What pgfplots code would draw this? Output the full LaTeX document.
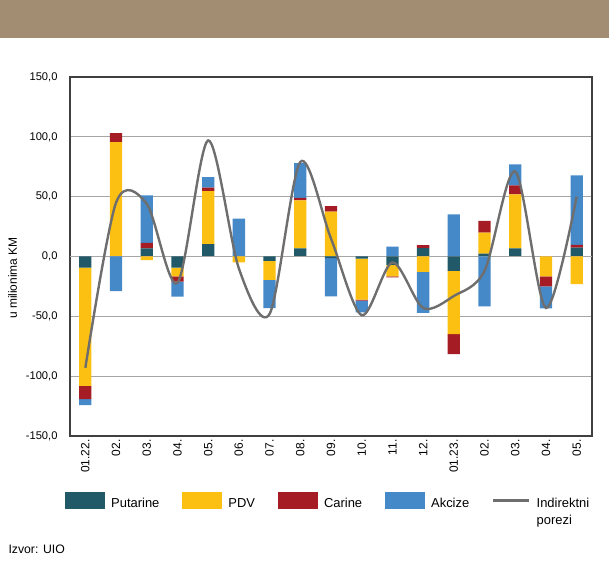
\documentclass[border=0pt]{standalone}
\usepackage{pgfplots}
\pgfplotsset{compat=1.18}
\usepackage{pgfplotstable}
\usepackage{fontspec}
\setmainfont{Liberation Sans}

\definecolor{cPut}{HTML}{215968}
\definecolor{cPdv}{HTML}{FCC013}
\definecolor{cCar}{HTML}{A51C24}
\definecolor{cAkc}{HTML}{4589C8}
\definecolor{cLine}{HTML}{6E6E6E}
\definecolor{cGrid}{HTML}{A6A6A6}
\definecolor{cFrame}{HTML}{404040}
\definecolor{cBanner}{HTML}{A38D72}

% positive parts of each bar
\pgfplotstableread{
x  put  pdv  car  akc
0  0    0    0    0
1  0    95.6 7.5  0
2  6.7  0    4.7  39.7
3  0    0    0    0
4  10.3 44.4 2.8  8.9
5  0    0    0    31.7
6  0    0    0    0
7  6.7  40.3 2.0  29.0
8  0    37.5 4.7  0
9  0    0    0    0
10 0    0    0    8.3
11 7.0  0    2.5  0
12 0    0    0    35.3
13 2.5  17.5 9.7  0
14 6.7  45.3 7.5  17.5
15 0    0    0    0
16 7.5  0    2.2  58.0
}\pos

% negative parts of each bar
\pgfplotstableread{
x  put   pdv   car   akc
0  -9.2  -99.0 -11.0 -5.0
1  0     0     0     -29.0
2  0     -3.0  0     0
3  -9.2  -7.5  -4.4  -12.5
4  0     0     0     0
5  0     -5.0  0     0
6  -3.6  -16.0 0     -23.6
7  0     0     0     0
8  -1.4  0     0     -32.0
9  -1.7  -34.4 -0.8  -9.7
10 -7.0  -9.7  -0.8  0
11 0     -12.8 0     -34.4
12 -12.0 -52.8 -16.7 0
13 0     0     0     -41.7
14 0     0     0     0
15 0     -16.7 -8.3  -18.3
16 0     -23.0 0     0
}\neg

% Indirektni porezi
\pgfplotstableread{
x  ind
0  -93
1  45
2  44
3  -22
4  97
5  -10
6  -48
7  79
8  15
9  -49
10 -5
11 -43
12 -33
13 -12
14 71
15 -43
16 50
}\ind

\pgfplotsset{
  base/.style={scale only axis, width=522bp, height=359bp,
    xmin=-0.5, xmax=16.5, ymin=-150, ymax=150,
    at={(0,0)}, anchor=south west},
  barleg/.style={legend image code/.code={\fill[##1] (0bp,-1.5bp) rectangle (40bp,15.5bp);}},
  lineleg/.style={legend image code/.code={\draw[##1] (0bp,7.3bp) -- (36bp,7.3bp);}},
}

\begin{document}
\begin{tikzpicture}
\path[use as bounding box] (-70bp,-128bp) rectangle (539bp,436bp);
\fill[cBanner] (-70bp,398bp) rectangle (539bp,436bp);

\begin{axis}[base, ybar stacked, bar width=0.4,
  axis line style={draw=cFrame, line width=1.1bp},
  ymajorgrids, grid style={cGrid, line width=0.9bp},
  tick style={draw=none},
  ytick={-150,-100,...,150},
  xtick={0,...,16},
  xticklabels={01.22.,02.,03.,04.,05.,06.,07.,08.,09.,10.,11.,12.,01.23.,02.,03.,04.,05.},
  xticklabel style={rotate=90, anchor=east, font=\fontsize{12}{14}\selectfont},
  yticklabel style={font=\fontsize{11.2}{13}\selectfont, xshift=-9bp,
    /pgf/number format/.cd, fixed, fixed zerofill, precision=1, use comma,
    assume math mode=true},
  ylabel={u milionima KM},
  ylabel style={at={(axis description cs:-0.11,0.44)}, anchor=center,
    font=\fontsize{12}{14}\selectfont},
]
\addplot[fill=cPut, draw=none] table[x=x, y=put] {\pos};
\addplot[fill=cPdv, draw=none] table[x=x, y=pdv] {\pos};
\addplot[fill=cCar, draw=none] table[x=x, y=car] {\pos};
\addplot[fill=cAkc, draw=none] table[x=x, y=akc] {\pos};
\end{axis}

\begin{axis}[base, ybar stacked, bar width=0.4, hide axis]
\addplot[fill=cPut, draw=none] table[x=x, y=put] {\neg};
\addplot[fill=cPdv, draw=none] table[x=x, y=pdv] {\neg};
\addplot[fill=cCar, draw=none] table[x=x, y=car] {\neg};
\addplot[fill=cAkc, draw=none] table[x=x, y=akc] {\neg};
\draw[cGrid, line width=0.9bp] (axis cs:-0.5,0) -- (axis cs:16.5,0);
\end{axis}

\begin{axis}[base, hide axis,
  legend style={at={(axis description cs:-0.0096,-0.156)}, anchor=north west,
    draw=none, fill=none, inner sep=0pt, legend columns=5,
    cells={anchor=base west}, font=\fontsize{13}{15}\selectfont,
    /tikz/every odd column/.append style={column sep=4bp},
    /tikz/every even column/.append style={column sep=21bp}},
]
\addlegendimage{barleg, fill=cPut, draw=none}
\addlegendimage{barleg, fill=cPdv, draw=none}
\addlegendimage{barleg, fill=cCar, draw=none}
\addlegendimage{barleg, fill=cAkc, draw=none}
\addplot[smooth, color=cLine, line width=2.4bp, lineleg]
  table[x=x, y=ind] {\ind};
\legend{Putarine, PDV, Carine, Akcize,
  {\vtop{\baselineskip=17bp\hbox{Indirektni}\hbox{porezi}}}}
\end{axis}

\node[anchor=base west, font=\fontsize{12.3}{14}\selectfont] at (-65bp,-117bp) {Izvor: UIO};
\end{tikzpicture}
\end{document}
